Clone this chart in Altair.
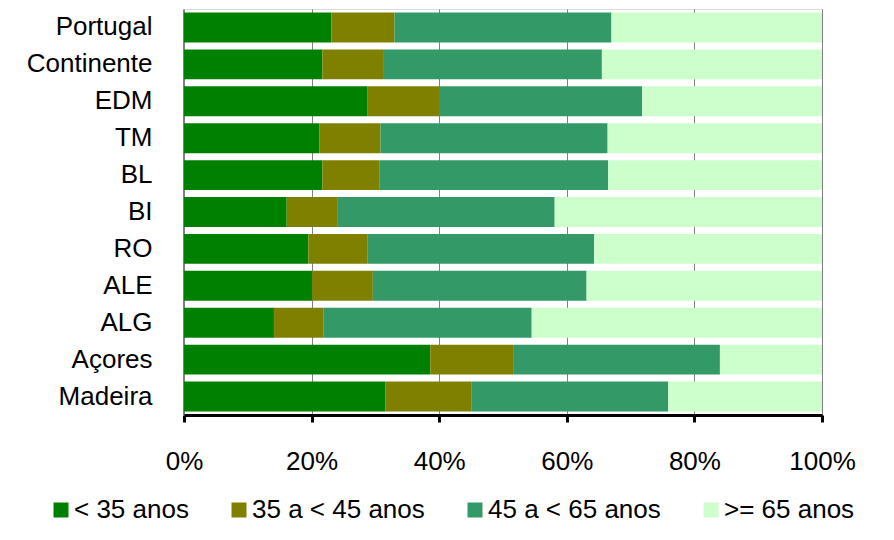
import altair as alt
import pandas as pd

regions = ["Portugal", "Continente", "EDM", "TM", "BL", "BI", "RO", "ALE", "ALG", "Açores", "Madeira"]
age_groups = ["< 35 anos", "35 a < 45 anos", "45 a < 65 anos", ">= 65 anos"]
under35 = [23.1, 21.7, 28.7, 21.2, 21.7, 16.1, 19.5, 20.1, 14.1, 38.6, 31.6]
from35to45 = [9.9, 9.5, 11.3, 9.6, 8.9, 7.9, 9.3, 9.5, 7.8, 13.1, 13.5]
from45to65 = [34.0, 34.3, 31.8, 35.6, 35.9, 34.1, 35.5, 33.5, 32.6, 32.3, 30.8]
over65 = [33.0, 34.5, 28.2, 33.6, 33.5, 41.9, 35.7, 36.9, 45.5, 16.0, 24.1]
colors = ["#008000", "#808000", "#339966", "#CCFFCC"]
x_ticks = [0, 0.2, 0.4, 0.6, 0.8, 1.0]

rows = []
for series, vals in zip(age_groups, [under35, from35to45, from45to65, over65]):
    for r, v in zip(regions, vals):
        rows.append({"region": r, "grupo": series, "valor": v, "ordem": age_groups.index(series)})
df = pd.DataFrame(rows)

FONT = "Liberation Sans"

chart = alt.Chart(df).mark_bar().encode(
    y=alt.Y("region:N", sort=regions, title=None,
            scale=alt.Scale(paddingInner=0.19, paddingOuter=0.095),
            axis=alt.Axis(domainColor="#808080", domainWidth=1, ticks=False, grid=False,
                          labelFont=FONT, labelFontSize=26, labelColor="black",
                          labelPadding=31, zindex=1, offset=1, labelLimit=300)),
    x=alt.X("valor:Q", stack="normalize", title=None,
            scale=alt.Scale(domain=[0, 1], nice=False),
            axis=alt.Axis(values=x_ticks, format=".0%", domainColor="black", domainWidth=3,
                          tickColor="black", tickWidth=3, tickSize=7,
                          grid=True, gridColor="#808080", gridWidth=1,
                          labelFont=FONT, labelFontSize=26, labelColor="black",
                          labelPadding=26, labelFlush=False)),
    color=alt.Color("grupo:N", sort=age_groups, title=None,
                    scale=alt.Scale(domain=age_groups, range=colors),
                    legend=alt.Legend(orient="none", direction="horizontal", columns=4,
                                      legendX=-136, legendY=488,
                                      symbolType="square", symbolSize=225, symbolStrokeWidth=0,
                                      symbolOffset=0, labelOffset=0, columnPadding=37,
                                      labelFont=FONT, labelFontSize=26, labelColor="black",
                                      labelLimit=400)),
    order=alt.Order("ordem:Q"),
).properties(
    width=638, height=406,
    autosize=alt.AutoSizeParams(type="none"),
    padding={"left": 184, "top": 9, "right": 72, "bottom": 125},
).configure_view(stroke=None).configure(background="white")

chart.save("out.html", embed_options={"renderer": "svg", "actions": False})
